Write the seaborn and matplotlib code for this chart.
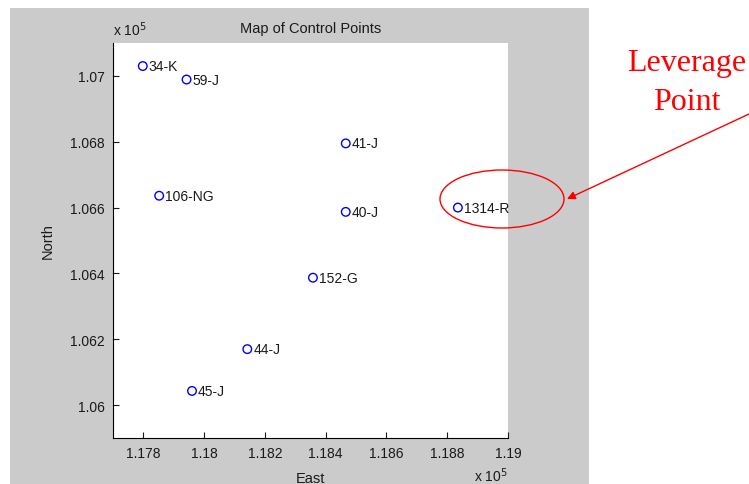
import seaborn as sns
import pandas as pd
import matplotlib.pyplot as plt
from matplotlib.patches import Rectangle, Ellipse
from matplotlib.ticker import FuncFormatter, MultipleLocator

# Control points (metres)
names = ['34-K', '59-J', '41-J', '106-NG', '40-J', '152-G', '44-J', '45-J', '1314-R']
east = [117798, 117942, 118466, 117852, 118466, 118358, 118142, 117960, 118835]
north = [107030, 106989, 106795, 106636, 106587, 106387, 106170, 106043, 106600]

df = pd.DataFrame({'East': east, 'North': north, 'Name': names})

sns.set_style("ticks")
plt.rcParams['font.family'] = ['Liberation Sans', 'DejaVu Sans']
plt.rcParams['text.color'] = '#1a1a1a'
plt.rcParams['axes.labelcolor'] = '#1a1a1a'

fig = plt.figure(figsize=(7.49, 4.85), dpi=100)

# grey MATLAB-style figure panel
fig.patches.append(Rectangle((10 / 749, 0), 579 / 749, 1 - 9 / 485,
                             transform=fig.transFigure, facecolor='#cbcbcb',
                             edgecolor='none', zorder=-1))

ax = fig.add_axes([113 / 749, 1 - 439 / 485, 395 / 749, 395 / 485])
ax.set_facecolor('white')

sns.scatterplot(data=df, x='East', y='North', ax=ax, marker='o', s=38,
                facecolor='none', edgecolor='blue', linewidth=1, zorder=3)

for n, x, y in zip(df['Name'], df['East'], df['North']):
    ax.annotate(n, (x, y), xytext=(4.3, 0), textcoords='offset points',
                va='center', ha='left', fontsize=10, color='#1a1a1a',
                annotation_clip=False, zorder=4)

ax.set_xlim(117700, 119000)
ax.set_ylim(105900, 107100)
ax.xaxis.set_major_locator(MultipleLocator(200))
ax.yaxis.set_major_locator(MultipleLocator(200))
fmt = FuncFormatter(lambda v, p: f'{v / 1e5:g}')
ax.xaxis.set_major_formatter(fmt)
ax.yaxis.set_major_formatter(fmt)
ax.tick_params(direction='in', length=4, width=0.8, labelsize=10, colors='#1a1a1a', pad=6)

sns.despine(ax=ax)
for s in ['left', 'bottom']:
    ax.spines[s].set_color('black')
    ax.spines[s].set_linewidth(0.8)

ax.set_title('Map of Control Points', fontsize=10.5, pad=8)
ax.set_xlabel('East', fontsize=10.5)
ax.set_ylabel('North', fontsize=10.5)
ax.xaxis.set_label_coords(0.5, -0.083)
ax.yaxis.set_label_coords(-0.147, 0.5)

ax.text(0, 1.02, r'x 10$^5$', transform=ax.transAxes, fontsize=10, ha='left', va='baseline')
ax.text(1, -0.108, r'x 10$^5$', transform=ax.transAxes, fontsize=10, ha='right', va='baseline')

# leverage-point callout
fig.patches.append(Ellipse((502 / 749, 1 - 200 / 485), 124 / 749, 58 / 485,
                           transform=fig.transFigure, facecolor='none',
                           edgecolor='red', linewidth=1, zorder=5))
fig.add_artist(plt.Annotation('', xy=(567, 485 - 200), xycoords='figure pixels',
                              xytext=(749, 485 - 115), textcoords='figure pixels',
                              arrowprops=dict(arrowstyle='-|>', color='red', lw=1,
                                              mutation_scale=12, shrinkA=0, shrinkB=0)))
fig.text(687 / 749, 1 - 71 / 485, 'Leverage', color='red', fontsize=23,
         family=['Liberation Serif', 'DejaVu Serif'], ha='center', va='baseline')
fig.text(687 / 749, 1 - 110 / 485, 'Point', color='red', fontsize=23,
         family=['Liberation Serif', 'DejaVu Serif'], ha='center', va='baseline')

fig.savefig('out.png', dpi=100)
plt.close(fig)
